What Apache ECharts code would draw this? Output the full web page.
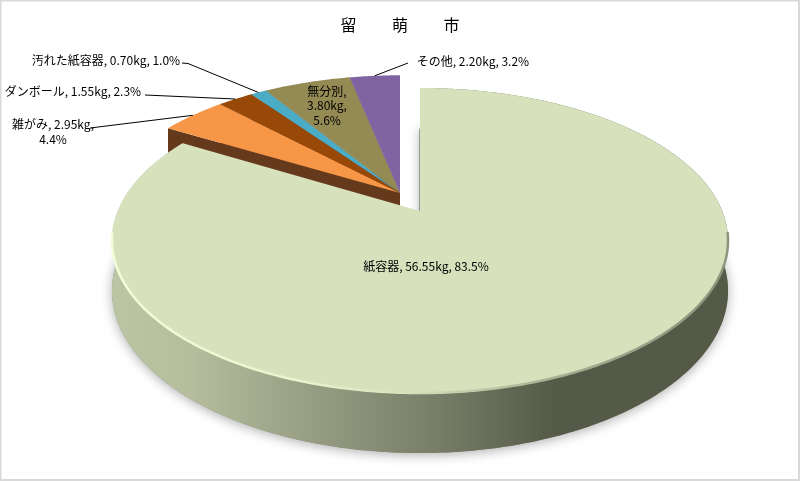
<!DOCTYPE html>
<html><head><meta charset="utf-8">
<script src="https://cdn.jsdelivr.net/npm/echarts@6/dist/echarts.min.js"></script>
<style>html,body{margin:0;padding:0;background:#fff}#c{width:800px;height:481px}</style>
</head><body><div id="c"></div>
<script>
const categories = ['紙容器','雑がみ','ダンボール','汚れた紙容器','無分別','その他'];
const weights = [56.55,2.95,1.55,0.70,3.80,2.20];
const colors = ['#d7e1bc','#f79646','#984807','#4bacc6','#948a54','#8064a2'];
const title = '留　　 萌　　 市';

// label placement: text anchor (px) and the elbow of the leader line
const labelLayout = [
  {x:426,y:266,align:'center',split:0},
  {x:53,y:124,align:'center',split:2,lh:15,from:[90,128]},
  {x:73,y:91,align:'center',split:0,from:[145,95]},
  {x:106,y:60,align:'center',split:0,from:[182,63],elbow:[188,63.5]},
  {x:327,y:91,align:'center',split:1,lh:14.5},
  {x:473,y:61,align:'center',split:0,from:[408,63]}
];
// projection of the tilted disc
const P = {cx:420, cy:211, s:302.2, d:146.8, k:0.1934, H:48.4};
const burst = {dx:-20, dy:0.1256};
const total = weights.reduce((a,b)=>a+b,0);
const FONT = '"Noto Sans CJK JP"';

function proj(theta, r, ex, down){
  const X=r*Math.sin(theta), Y=r*Math.cos(theta)+ex.dy, w=1+P.k*Y;
  return [P.cx+ex.dx+P.s*X/w, P.cy-P.d*Y/w+(down?P.H/w:0)];
}
function arc(a0,a1,ex,down){
  const n=Math.max(4,Math.ceil(Math.abs(a1-a0)*80)),pts=[];
  for(let i=0;i<=n;i++) pts.push(proj(a0+(a1-a0)*i/n,1,ex,down));
  return pts;
}
const sideFill={type:'linear',global:true,x:112,y:0,x2:728,y2:0,colorStops:[
  {offset:0,color:'#bcc5a3'},{offset:0.13,color:'#b5bd9d'},{offset:0.3,color:'#9aa186'},
  {offset:0.5,color:'#7c826b'},{offset:0.72,color:'#555a48'},{offset:1,color:'#555a48'}]};
const rimStroke={type:'linear',global:true,x:112,y:0,x2:728,y2:0,colorStops:[
  {offset:0,color:'#f3fdd8'},{offset:0.3,color:'#eaf4cd'},{offset:0.48,color:'#d7e1bc'},
  {offset:0.72,color:'#a7ae92'},{offset:1,color:'#8d937b'}]};

function renderItem(params, api){
  const i=params.dataIndex, v=api.value(0);
  let cum=0; for(let j=0;j<i;j++) cum+=weights[j];
  const a0=cum/total*2*Math.PI, a1=(cum+v)/total*2*Math.PI, mid=(a0+a1)/2;
  const main=i===0, ex=main?{dx:0,dy:0}:burst;
  const apex=proj(0,0,ex), apexD=proj(0,0,ex,true);
  const top=arc(a0,a1,ex), bot=arc(a0,a1,ex,true);
  const ch=[];
  if(main){
    ch.push({type:'polygon',z2:0,shape:{points:[apexD].concat(bot)},style:{fill:'#8a907a',shadowBlur:12,shadowColor:'rgba(0,0,0,0.32)',shadowOffsetX:0,shadowOffsetY:2}});
    ch.push({type:'line',z2:0,shape:{x1:apex[0],y1:apex[1],x2:apex[0],y2:proj(0,1,ex,true)[1]},style:{stroke:'#555a48',lineWidth:1}});
    ch.push({type:'polygon',z2:30,shape:{points:top.concat(bot.slice().reverse())},style:{fill:sideFill}});
    ch.push({type:'polygon',z2:40,shape:{points:[apex].concat(top)},style:{fill:colors[i]}});
    ch.push({type:'polyline',z2:41,shape:{points:top.filter(p=>p[1]>232)},style:{stroke:rimStroke,lineWidth:2.5,fill:null}});
  } else {
    const a=proj(a0,1,ex), b=proj(a0,1,ex,true);
    ch.push({type:'polygon',z2:10,shape:{points:[apex,a,b,apexD]},style:{fill:'#653a1c'}});
    ch.push({type:'polygon',z2:20,shape:{points:[apex].concat(top)},style:{fill:colors[i]}});
  }
  // label + leader
  const L=labelLayout[i];
  const parts=[categories[i]+',',v.toFixed(2)+'kg,',(v/total*100).toFixed(1)+'%'];
  let lines;
  if(L.split===0) lines=[parts.join(' ')];
  else if(L.split===2) lines=[parts[0]+' '+parts[1],parts[2]];
  else lines=parts;
  lines.forEach((t,n)=>{
    ch.push({type:'text',z2:60,x:L.x,y:L.y+n*(L.lh||0),style:{text:t,fill:'#000',fontSize:12,fontFamily:FONT,align:L.align,verticalAlign:'middle'}});
  });
  if(L.from){
    const end=proj(mid,1,ex), pts=[L.from];
    if(L.elbow) pts.push(L.elbow);
    pts.push(end);
    ch.push({type:'polyline',z2:50,shape:{points:pts},style:{stroke:'#000',lineWidth:1,fill:null}});
  }
  return {type:'group',children:ch};
}
const chart=echarts.init(document.getElementById('c'),null,{renderer:'canvas'});
chart.setOption({
  animation:false,
  backgroundColor:'#fff',
  title:{text:title,left:'center',top:12,textStyle:{fontFamily:FONT,fontSize:16,fontWeight:'normal',color:'#000'}},
  graphic:[{type:'rect',z:100,silent:true,shape:{x:0.5,y:0.5,width:798.5,height:479.5},style:{fill:null,stroke:'#d9d9d9',lineWidth:2}}],
  series:[{type:'custom',coordinateSystem:'none',silent:true,renderItem,encode:{value:0},data:weights.map((w,i)=>({name:categories[i],value:[w]}))}]
});
</script></body></html>
